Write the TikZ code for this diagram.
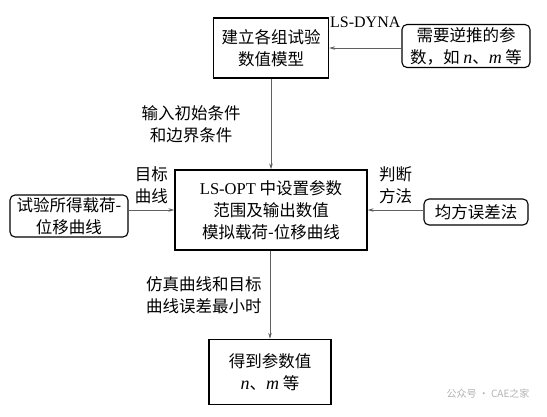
\documentclass[tikz,border=0pt]{standalone}
\usepackage{fontspec}
\setmainfont{Liberation Serif}
\newfontfamily\cjk{Noto Sans CJK SC}
\usetikzlibrary{arrows.meta}
\newcommand{\var}[1]{{\rmfamily\itshape\fontsize{18}{22}\selectfont #1}}
\tikzset{
  mainbox/.style={draw, line width=1.3pt, align=center, inner sep=0pt},
  inbox/.style={draw, line width=1.1pt, rounded corners=5pt, align=center, inner sep=0pt},
  flow/.style={draw=gray!75!black, line width=0.8pt, -{Stealth[length=6pt,width=3.5pt]}},
  lbl/.style={align=center, inner sep=0pt},
}
\begin{document}
\begin{tikzpicture}[x=1pt, y=-1pt, font=\cjk\fontsize{16.5}{22}\selectfont]
  \useasboundingbox (0,0) rectangle (547,416);
  % 主流程
  \node[mainbox, minimum width=115pt, minimum height=60pt] (model) at (271,48) {建立各组试验\\数值模型};
  \node[mainbox, minimum width=192pt, minimum height=80pt] (opt) at (271,210)
    {{\rmfamily LS-OPT} 中设置参数\\范围及输出数值\\模拟载荷-位移曲线};
  \node[mainbox, minimum width=122pt, minimum height=65pt] (result) at (270,372)
    {得到参数值\\\var{n}、\var{m} 等};
  % 输入
  \node[inbox, minimum width=128pt, minimum height=43pt] (param) at (466,46)
    {需要逆推的参\\数，如 \var{n}、\var{m} 等};
  \node[inbox, minimum width=118pt, minimum height=42pt] (test) at (69,216) {试验所得载荷-\\位移曲线};
  \node[inbox, minimum width=104pt, minimum height=26pt] (mse) at (476,212) {均方误差法};
  % 连线
  \draw[flow] (param.west |- model.east) -- (model.east)
    node[midway, above=17pt, font=\rmfamily\fontsize{16}{18}\selectfont] {LS-DYNA};
  \draw[flow] (model.south) -- (model.south |- opt.north)
    node[midway, left=30pt, lbl] {输入初始条件\\和边界条件};
  \draw[flow] (test.east |- opt.west) -- (opt.west)
    node[midway, above=6pt, lbl] {目标\\曲线};
  \draw[flow] (mse.west |- opt.east) -- (opt.east)
    node[midway, above=6pt, lbl] {判断\\方法};
  \draw[flow] (opt.south -| result.north) -- (result.north)
    node[midway, left=8pt, lbl] {仿真曲线和目标\\曲线误差最小时};
  \node[text=gray!60, font=\cjk\fontsize{10}{12}\selectfont] (mark) at (488,394) {公众号 · CAE之家};
\end{tikzpicture}
\end{document}
